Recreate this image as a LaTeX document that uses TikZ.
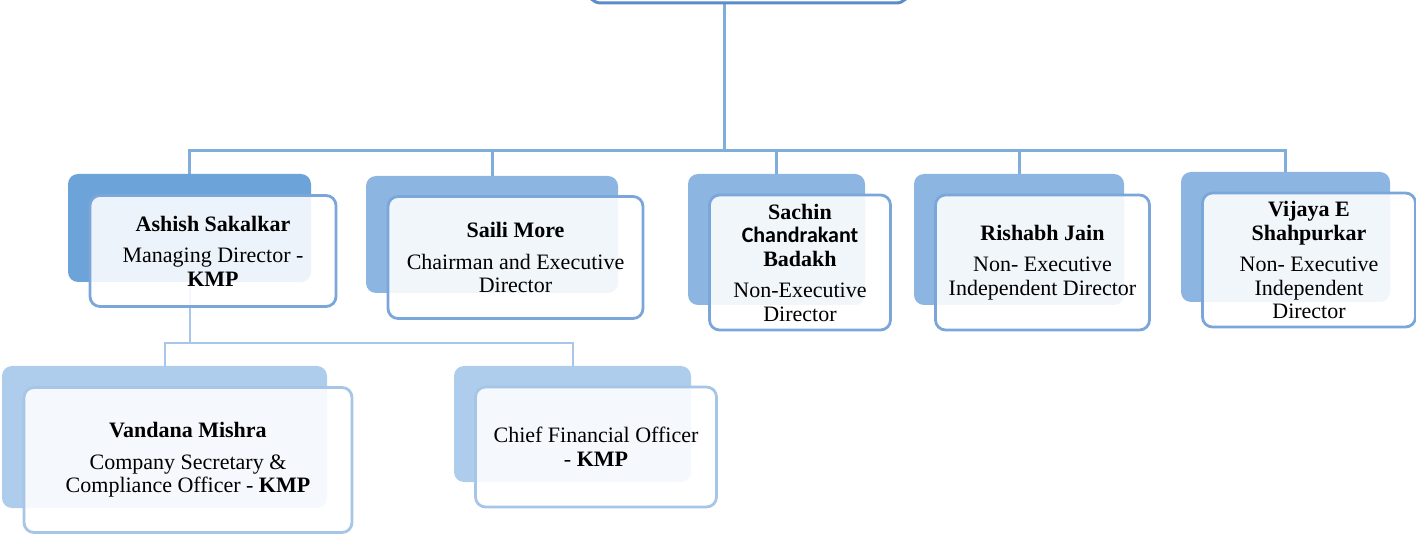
\documentclass[tikz,border=0pt]{standalone}
\usepackage{fontspec}
\setmainfont{Liberation Serif}
\newfontfamily\carlito{Carlito}
\usetikzlibrary{positioning,backgrounds}

\definecolor{topline}{HTML}{5A8BCB}
\definecolor{linkblue}{HTML}{7FADDC}
\definecolor{linklight}{HTML}{A8C6E8}
\definecolor{mdblue}{HTML}{6CA3D9}
\definecolor{dirblue}{HTML}{8CB6E1}
\definecolor{kmpblue}{HTML}{AECCEB}
\definecolor{edgeblue}{HTML}{7AA6D9}
\definecolor{edgelight}{HTML}{A7C5E7}

\begin{document}
\begin{tikzpicture}[x=1pt,y=-1pt,on grid,
    back/.style={rounded corners=10pt,fill=dirblue,inner sep=0pt},
    card/.style={rounded corners=10pt,draw=edgeblue,line width=2.8pt,fill=white,
      fill opacity=0.88,text opacity=1,align=center,inner sep=4pt,
      font=\fontsize{22}{23.5}\selectfont},
    link/.style={draw=linkblue,line width=3pt},
    sublink/.style={draw=linklight,line width=2pt},
    elbow/.style={to path={-| (\tikztotarget)}}]
    \useasboundingbox (0,0) rectangle (1416,534);
    \begin{scope}
      \clip (0,0) rectangle (1416,534);
      \node[draw=topline,line width=3pt,rounded corners=14pt,
        minimum width=323pt,minimum height=60pt] (board) at (748.5,-27) {};
    \end{scope}
    % directors
    \node[back,fill=mdblue,minimum width=243pt,minimum height=108pt] (b_1) at (189.5,228) {};
    \node[card,minimum width=246pt,minimum height=111pt] (d_1) [below right=23pt and 23.5pt of b_1]
      {\textbf{Ashish Sakalkar}\\[8pt]Managing Director -\\\textbf{KMP}};
    \node[back,minimum width=252pt,minimum height=117pt] (b_2) at (492,234.5) {};
    \node[card,minimum width=255pt,minimum height=122pt] (d_2) [below right=23pt and 23.5pt of b_2]
      {\textbf{Saili More}\\[8pt]Chairman and Executive\\Director};
    \node[back,minimum width=177pt,minimum height=131pt] (b_3) at (776.5,239.5) {};
    \node[card,minimum width=181pt,minimum height=135pt] (d_3) [below right=23pt and 23.5pt of b_3]
      {\textbf{Sachin}\\{\carlito\bfseries Chandrakant}\\\textbf{Badakh}\\[8pt]Non-Executive\\Director};
    \node[back,minimum width=210pt,minimum height=131pt] (b_4) at (1019,239.5) {};
    \node[card,minimum width=214pt,minimum height=135pt] (d_4) [below right=23pt and 23.5pt of b_4]
      {\textbf{Rishabh Jain}\\[8pt]Non- Executive\\Independent Director};
    \node[back,minimum width=209pt,minimum height=130pt] (b_5) at (1285.5,237) {};
    \node[card,minimum width=213pt,minimum height=134pt] (d_5) [below right=23pt and 23.5pt of b_5]
      {\textbf{Vijaya E}\\\textbf{Shahpurkar}\\[8pt]Non- Executive\\Independent\\Director};
    % kmp
    \node[back,fill=kmpblue,minimum width=325pt,minimum height=142pt] (b_6) at (164.5,437) {};
    \node[card,draw=edgelight,minimum width=328pt,minimum height=145pt] (d_6) [below right=23pt and 23.5pt of b_6]
      {\textbf{Vandana Mishra}\\[8pt]Company Secretary \&\\Compliance Officer - \textbf{KMP}};
    \node[back,fill=kmpblue,minimum width=237pt,minimum height=116pt] (b_7) at (572.5,424) {};
    \node[card,draw=edgelight,minimum width=241pt,minimum height=120pt] (d_7) [below right=23pt and 23.5pt of b_7]
      {Chief Financial Officer\\- \textbf{KMP}};
    \coordinate (hub) at (724,151);
    \coordinate (split) at (189.5,343);
    \begin{scope}[on background layer]
      \path[link]
      (board.south -| hub) edge (hub)
      (hub) edge[elbow] (b_1.north)
      (hub) edge[elbow] (b_2.north)
      (hub) edge[elbow] (b_3.north)
      (hub) edge[elbow] (b_4.north)
      (hub) edge[elbow] (b_5.north);
      \path[sublink]
      (b_1) edge (split)
      (split) edge[elbow] (b_6.north)
      (split) edge[elbow] (b_7.north);
    \end{scope}
  \end{tikzpicture}
\end{document}
